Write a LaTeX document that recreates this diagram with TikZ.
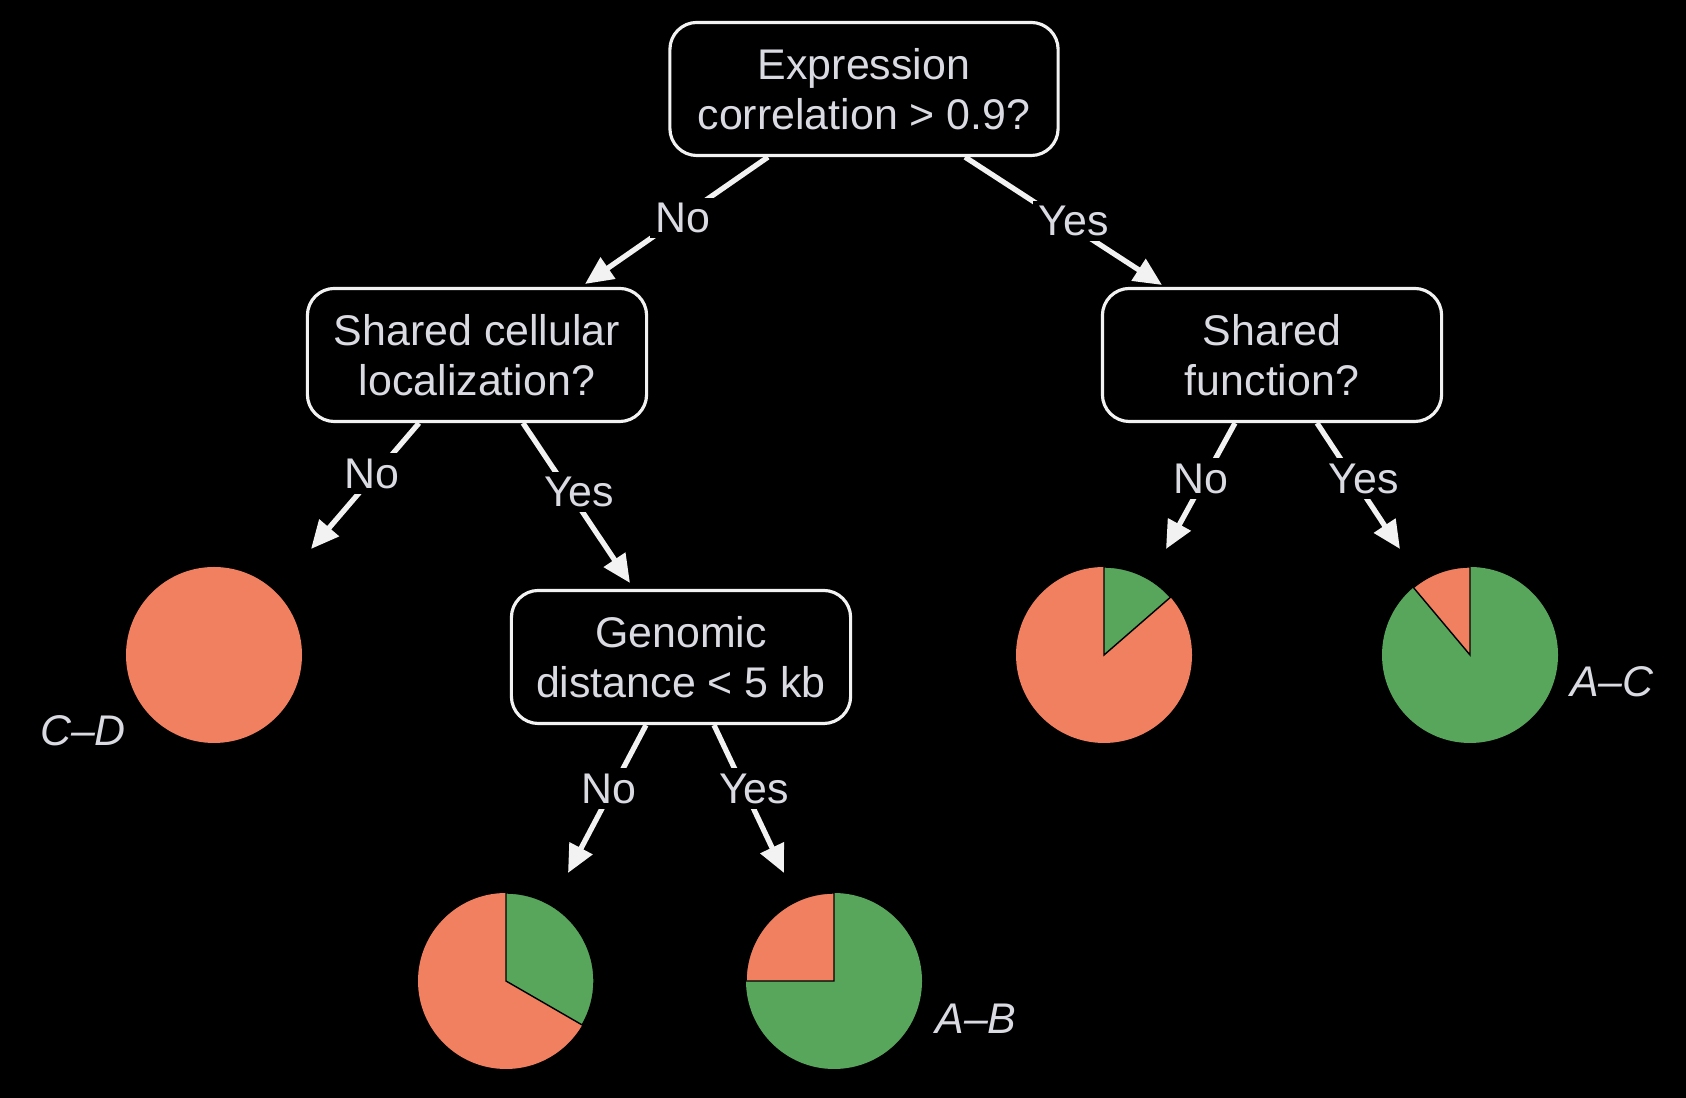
\documentclass[tikz,border=0pt]{standalone}
\usepackage{fontspec}
\setmainfont{Liberation Sans}
\usetikzlibrary{arrows.meta}

\definecolor{texto}{RGB}{218,218,226}
\definecolor{rojo}{RGB}{240,128,96}
\definecolor{verde}{RGB}{88,165,92}
\definecolor{linea}{RGB}{242,242,242}

\begin{document}
\begin{tikzpicture}[x=0.01cm,y=0.01cm,
    caja/.style={draw=linea, line width=0.9pt, rounded corners=0.27cm,
        minimum width=3.39cm, minimum height=1.33cm, align=center,
        text=texto, font=\fontsize{12.2}{14.2}\selectfont},
    flecha/.style={draw=linea, line width=1.5pt,
        -{Triangle[length=0.28cm,width=0.25cm]}},
    etiq/.style={fill=black, text=texto, inner sep=1.5pt,
        font=\fontsize{12.2}{14.2}\selectfont},
    no/.style={etiq, xshift=-0.04cm},
    si/.style={etiq, xshift=0.1cm},
    par/.style={text=texto, font=\fontsize{12.2}{14.2}\selectfont\itshape},
    corte/.style={draw=black, line width=0.4pt}]

    % Fondo
    \fill[black] (0,0) rectangle (1686,1098);

    % Cajas
    \node[caja, minimum width=3.88cm] (expr) at (864,1009) {Expression\\correlation > 0.9?};
    \node[caja] (loc) at (477,743) {Shared cellular\\localization?};
    \node[caja] (func) at (1272,743) {Shared\\function?};
    \node[caja] (geno) at (681,441) {Genomic\\distance < 5 kb};

    % Puntas de las flechas
    \coordinate (exprNo) at (585,814);
    \coordinate (exprYes) at (1162,813);
    \coordinate (locNo) at (311,549);
    \coordinate (locYes) at (630,515);
    \coordinate (funcNo) at (1166,549);
    \coordinate (funcYes) at (1400,549);
    \coordinate (genoNo) at (568,225);
    \coordinate (genoYes) at (784,225);

    % Flechas
    \draw[flecha] ([xshift=-0.96cm]expr.south) -- (exprNo) node[etiq, pos=0.48, xshift=0.03cm] {No};
    \draw[flecha] ([xshift=1.01cm]expr.south) -- (exprYes) node[etiq, pos=0.5, xshift=0.1cm] {Yes};
    \draw[flecha] ([xshift=-0.58cm]loc.south) -- (locNo) node[no, pos=0.4] {No};
    \draw[flecha] ([xshift=0.46cm]loc.south) -- (locYes) node[si, pos=0.43] {Yes};
    \draw[flecha] ([xshift=-0.37cm]func.south) -- (funcNo) node[no, pos=0.44] {No};
    \draw[flecha] ([xshift=0.45cm]func.south) -- (funcYes) node[si, pos=0.44] {Yes};
    \draw[flecha] ([xshift=-0.35cm]geno.south) -- (genoNo) node[no, pos=0.43] {No};
    \draw[flecha] ([xshift=0.33cm]geno.south) -- (genoYes) node[si, pos=0.43] {Yes};

    % Tortas
    \coordinate (pCD) at (214,443);
    \coordinate (pFN) at (1104,443);
    \coordinate (pAC) at (1470,443);
    \coordinate (pGN) at (506,117);
    \coordinate (pAB) at (834,117);

    \fill[rojo] (pCD) circle (88);

    \fill[rojo] (pFN) circle (88);
    \filldraw[fill=verde, corte] (pFN) -- ++(90:88) arc[start angle=90, end angle=41, radius=88] -- cycle;

    \fill[verde] (pAC) circle (88);
    \filldraw[fill=rojo, corte] (pAC) -- ++(90:88) arc[start angle=90, end angle=130, radius=88] -- cycle;

    \fill[rojo] (pGN) circle (88);
    \filldraw[fill=verde, corte] (pGN) -- ++(90:88) arc[start angle=90, end angle=-30, radius=88] -- cycle;

    \fill[verde] (pAB) circle (88);
    \filldraw[fill=rojo, corte] (pAB) -- ++(90:88) arc[start angle=90, end angle=180, radius=88] -- cycle;

    % Nombres de los pares
    \node[par] (lCD) at (83,367) {C–D};
    \node[par] (lAC) at (1612,416) {A–C};
    \node[par] (lAB) at (976,79) {A–B};

\end{tikzpicture}
\end{document}
